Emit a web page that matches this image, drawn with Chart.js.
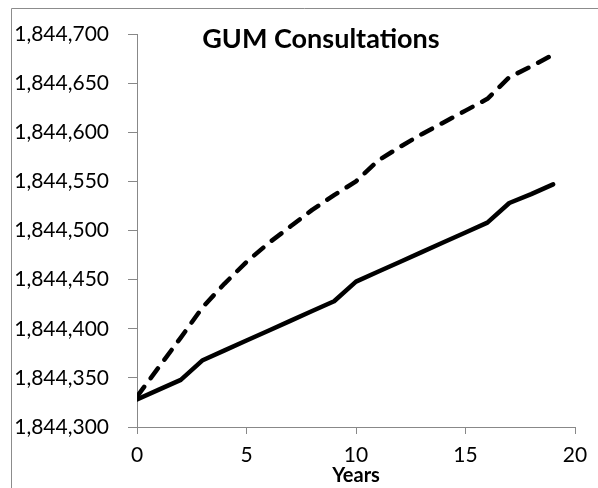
<!DOCTYPE html>
<html>
<head>
<meta charset="utf-8">
<script src="https://cdn.jsdelivr.net/npm/chart.js@4"></script>
<style>
  html, body { margin: 0; padding: 0; background: #fff; }
  #wrap { width: 598px; height: 488px; position: relative; }
</style>
</head>
<body>
<div id="wrap"><canvas id="c" width="598" height="488"></canvas></div>
<script>
const years = [0,1,2,3,4,5,6,7,8,9,10,11,12,13,14,15,16,17,18,19];
const solidSeries = [1844328,1844338,1844348,1844368,1844378,1844388,1844398,1844408,1844418,1844428,1844448,1844458,1844468,1844478,1844488,1844498,1844508,1844528,1844537,1844547];
const dashedSeries = [1844331,1844361,1844391,1844422,1844446,1844468,1844487,1844504,1844521,1844536,1844550,1844571,1844585,1844598,1844610,1844622,1844634,1844656,1844667,1844679];
const xTicks = [0,5,10,15,20];
const yTicks = [1844300,1844350,1844400,1844450,1844500,1844550,1844600,1844650,1844700];
const chartTitle = 'GUM Consultations';
const xTitle = 'Years';

const FONT = 'Lato, "Open Sans", sans-serif';
const axisColor = '#888888';

const frame = {
  id: 'frame',
  beforeDraw(chart) {
    const ctx = chart.ctx;
    ctx.save();
    ctx.strokeStyle = '#8c8c8c';
    ctx.lineWidth = 1;
    ctx.beginPath();
    ctx.moveTo(11.5, 488);
    ctx.lineTo(11.5, 8.5);
    ctx.lineTo(598, 8.5);
    ctx.stroke();
    ctx.restore();
  },
  afterDraw(chart) {
    const ctx = chart.ctx;
    const a = chart.chartArea;
    ctx.save();
    ctx.font = 'bold 27px ' + FONT;
    ctx.fillStyle = '#000';
    ctx.textAlign = 'center';
    ctx.textBaseline = 'alphabetic';
    ctx.fillText(chartTitle, a.left + (a.right - a.left) * 0.42, a.top + 14);
    ctx.restore();
  }
};

const toPts = (xs, ys) => xs.map((x, i) => ({x, y: ys[i]}));

new Chart(document.getElementById('c'), {
  type: 'line',
  data: {
    datasets: [
      {
        label: 'Dashed',
        data: toPts(years, dashedSeries),
        borderColor: '#000',
        borderWidth: 4.5,
        borderDash: [12, 11],
        borderCapStyle: 'round',
        borderJoinStyle: 'round',
        pointRadius: 0,
        tension: 0,
        fill: false
      },
      {
        label: 'Solid',
        data: toPts(years, solidSeries),
        borderColor: '#000',
        borderWidth: 4.5,
        borderCapStyle: 'round',
        borderJoinStyle: 'round',
        pointRadius: 0,
        tension: 0,
        fill: false
      }
    ]
  },
  options: {
    responsive: false,
    animation: false,
    devicePixelRatio: 1,
    layout: { padding: { left: 0, right: 23, top: 34, bottom: 0 } },
    plugins: {
      legend: { display: false },
      title: { display: false },
      tooltip: { enabled: false }
    },
    scales: {
      x: {
        type: 'linear',
        min: 0, max: 20,
        afterBuildTicks: s => { s.ticks = xTicks.map(v => ({value: v})); },
        afterFit: s => { s.height = 61; },
        ticks: { color: '#000', font: { family: FONT, size: 21 }, padding: 9, maxRotation: 0 },
        grid: { drawOnChartArea: false, drawTicks: true, tickLength: 7, color: axisColor },
        border: { color: axisColor, width: 1 },
        title: { display: true, text: xTitle, color: '#000', font: { family: FONT, size: 20, weight: 'bold' }, padding: { top: 0, bottom: 0 } }
      },
      y: {
        min: 1844300, max: 1844700,
        afterBuildTicks: s => { s.ticks = yTicks.map(v => ({value: v})); },
        afterFit: s => { s.width = 137; },
        ticks: { color: '#000', font: { family: FONT, size: 21 }, padding: 19,
                 callback: v => Number(v).toLocaleString('en-US') },
        grid: { drawOnChartArea: false, drawTicks: true, tickLength: 9, color: axisColor },
        border: { color: axisColor, width: 1 }
      }
    }
  },
  plugins: [frame]
});
</script>
</body>
</html>
